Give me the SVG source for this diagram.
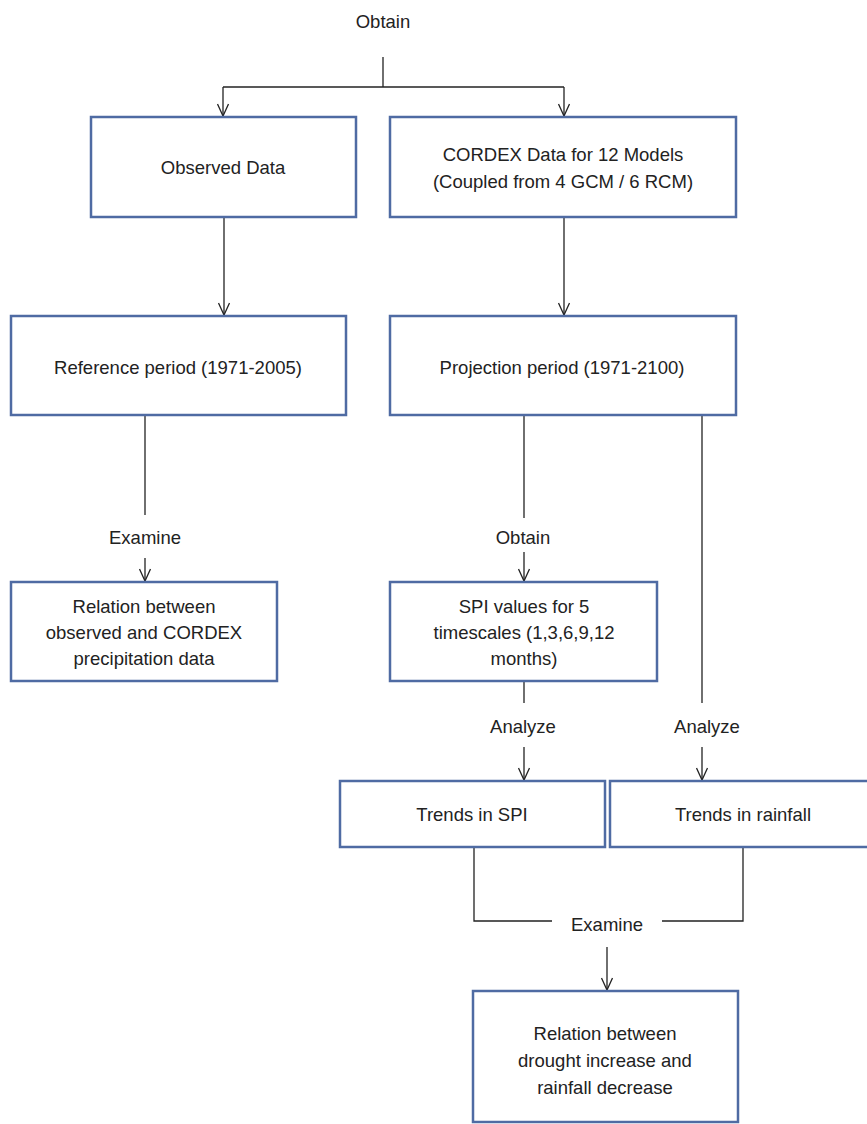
<svg xmlns="http://www.w3.org/2000/svg" width="867" height="1124" viewBox="0 0 867 1124">
<defs>
<marker id="arr" viewBox="0 0 14 12" refX="13" refY="6" markerWidth="14" markerHeight="12" markerUnits="userSpaceOnUse" orient="auto">
<path d="M1,0.5 L13,6 L1,11.5" fill="none" stroke="#222" stroke-width="1.3"/>
</marker>
</defs>
<style>
.box{fill:#fff;stroke:#4f6ba3;stroke-width:2.5}
.ln{fill:none;stroke:#222;stroke-width:1.3}
.ar{fill:none;stroke:#222;stroke-width:1.3;marker-end:url(#arr)}
text{font-family:"Liberation Sans",Arial,sans-serif;font-size:18.5px;fill:#222;text-anchor:middle}
</style>
<rect width="867" height="1124" fill="#fff"/>
<g id="connectors">
<text x="383" y="28">Obtain</text>
<line class="ln" x1="383" y1="57" x2="383" y2="87"/>
<polyline class="ln" points="223,87 564,87"/>
<line class="ar" x1="223" y1="87" x2="223" y2="116"/>
<line class="ar" x1="564" y1="87" x2="564" y2="116"/>
<line class="ar" x1="224" y1="217" x2="224" y2="315"/>
<line class="ar" x1="564" y1="217" x2="564" y2="315"/>
<line class="ln" x1="145" y1="415" x2="145" y2="515"/>
<text x="145" y="544">Examine</text>
<line class="ar" x1="145" y1="558" x2="145" y2="581"/>
<line class="ln" x1="524" y1="415" x2="524" y2="518"/>
<text x="523" y="544">Obtain</text>
<line class="ar" x1="524" y1="552" x2="524" y2="581"/>
<line class="ln" x1="702" y1="415" x2="702" y2="703"/>
<line class="ln" x1="524" y1="681" x2="524" y2="703"/>
<text x="523" y="733">Analyze</text>
<text x="707" y="733">Analyze</text>
<line class="ar" x1="524" y1="747" x2="524" y2="780"/>
<line class="ar" x1="702" y1="747" x2="702" y2="780"/>
<polyline class="ln" points="474,848 474,921 552,921"/>
<polyline class="ln" points="743,848 743,921 662,921"/>
<text x="607" y="931">Examine</text>
<line class="ar" x1="607" y1="947" x2="607" y2="990"/>
</g>
<g id="observed">
<rect class="box" x="91" y="117" width="265" height="100"/>
<text x="223" y="174">Observed Data</text>
</g>
<g id="cordex">
<rect class="box" x="390" y="117" width="346" height="100"/>
<text x="563" y="161">CORDEX Data for 12 Models</text>
<text x="563" y="188">(Coupled from 4 GCM / 6 RCM)</text>
</g>
<g id="reference">
<rect class="box" x="11" y="316" width="335" height="99"/>
<text x="178" y="374">Reference  period (1971-2005)</text>
</g>
<g id="projection">
<rect class="box" x="390" y="316" width="346" height="99"/>
<text x="562" y="374">Projection period (1971-2100)</text>
</g>
<g id="relation1">
<rect class="box" x="11" y="582" width="266" height="99"/>
<text x="144" y="613">Relation between</text>
<text x="144" y="639">observed and CORDEX</text>
<text x="144" y="665">precipitation data</text>
</g>
<g id="spi">
<rect class="box" x="390" y="582" width="267" height="99"/>
<text x="524" y="613">SPI values for 5</text>
<text x="524" y="639">timescales (1,3,6,9,12</text>
<text x="524" y="665">months)</text>
</g>
<g id="trendsspi">
<rect class="box" x="340" y="781" width="265" height="66"/>
<text x="472" y="821">Trends in SPI</text>
</g>
<g id="trendsrain">
<rect class="box" x="610" y="781" width="262" height="66"/>
<text x="743" y="821">Trends in rainfall</text>
</g>
<g id="relation2">
<rect class="box" x="473" y="991" width="265" height="131"/>
<text x="605" y="1040">Relation between</text>
<text x="605" y="1067">drought increase and</text>
<text x="605" y="1094">rainfall decrease</text>
</g>
</svg>
